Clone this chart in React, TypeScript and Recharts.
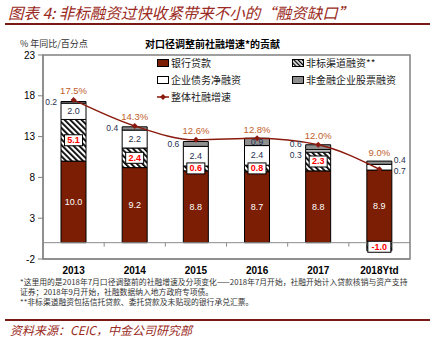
import React from 'react';
import {
  ComposedChart,
  Bar,
  Line,
  XAxis,
  YAxis,
  ReferenceLine,
  ReferenceArea,
  LabelList,
} from 'recharts';

const years = ['2013', '2014', '2015', '2016', '2017', '2018Ytd'];
const bankLoans = [10.0, 9.2, 8.8, 8.7, 8.8, 8.9];
const shadowFinancing = [5.1, 2.4, 0.6, 0.8, 2.3, -1.0];
const corpBonds = [2.0, 2.2, 2.4, 2.4, 0.3, 0.7];
const equityFinancing = [0.2, 0.4, 0.6, 0.9, 0.6, 0.4];
const tsfGrowth = [17.5, 14.3, 12.6, 12.8, 12.0, 9.0];
const yTicks = [-2, 3, 8, 13, 18, 23];

const data = years.map((year, i) => ({
  year,
  bank: bankLoans[i],
  shadow: shadowFinancing[i],
  bond: corpBonds[i],
  equity: equityFinancing[i],
  total: tsfGrowth[i],
}));

// chart geometry
const CHART_W = 432;
const CHART_H = 290;
const M_TOP = 55;
const M_BOTTOM = 11;
const X_AXIS_H = 20;
const Y_MIN = -2;
const Y_MAX = 23;
const PX_PER_UNIT = (CHART_H - M_TOP - M_BOTTOM - X_AXIS_H) / (Y_MAX - Y_MIN);

// where the small labels sit, by year
const bondSide = ['in', 'in', 'in', 'in', 'left', 'right'];
const equitySide = ['left', 'left', 'left', 'in', 'left', 'right'];

const BANK = '#7B1E04';
const GRAY = '#8E8E8E';
const LINE = '#8B1A0E';
const ORANGE = '#C0602A';
const NAVY = '#1F3050';
const NUM_FONT = '"Liberation Sans", Arial, sans-serif';
const CJK_FONT = '"Noto Sans CJK SC", "Noto Sans", sans-serif';

const box = (p: any) => {
  const v = p.viewBox || {};
  return {
    x: p.x ?? v.x ?? 0,
    y: p.y ?? v.y ?? 0,
    w: p.width ?? v.width ?? 0,
    h: p.height ?? v.height ?? 0,
  };
};

const bankLabel = (p: any) => {
  const { x, y, w, h } = box(p);
  return (
    <text x={x + w / 2} y={y + h / 2} textAnchor="middle" dominantBaseline="central" fill="#fff" fontSize={9} fontFamily={NUM_FONT}>
      {Number(p.value).toFixed(1)}
    </text>
  );
};

const shadowLabel = (p: any) => {
  const { x, y, w, h } = box(p);
  const txt = Number(p.value).toFixed(1);
  const bw = txt.length * 5 + 3;
  const cx = x + w / 2;
  const cy = y + h / 2;
  return (
    <g>
      <rect x={cx - bw / 2} y={cy - 5.5} width={bw} height={11} fill="#fff" stroke="#000" strokeWidth={1} />
      <text x={cx} y={cy} textAnchor="middle" dominantBaseline="central" fill="#FF0000" fontSize={9} fontWeight="bold" fontFamily={NUM_FONT}>
        {txt}
      </text>
    </g>
  );
};

const sideLabel = (sides: string[], nudge: number) => (p: any) => {
  const { x, y, w, h } = box(p);
  const side = sides[p.index];
  const cy = y + h / 2;
  const txt = Number(p.value).toFixed(1);
  if (side === 'in') {
    return (
      <text x={x + w / 2} y={cy} textAnchor="middle" dominantBaseline="central" fill={NAVY} fontSize={9} fontFamily={NUM_FONT}>
        {txt}
      </text>
    );
  }
  const both = bondSide[p.index] !== 'in';
  const ty = both ? cy + nudge : cy;
  return (
    <text
      x={side === 'left' ? x - 4 : x + w + 2}
      y={ty}
      textAnchor={side === 'left' ? 'end' : 'start'}
      dominantBaseline="central"
      fill={NAVY}
      fontSize={8.5}
      fontFamily={NUM_FONT}
    >
      {txt}
    </text>
  );
};

const growthLabel = (p: any) => {
  const { x, y } = box(p);
  const i = p.index;
  const barTop = [bankLoans[i], shadowFinancing[i], corpBonds[i], equityFinancing[i]]
    .filter((v) => v > 0)
    .reduce((a, b) => a + b, 0);
  const barTopY = y + (tsfGrowth[i] - barTop) * PX_PER_UNIT;
  const ly = Math.min(y, barTopY) - 9;
  return (
    <text x={x} y={ly} textAnchor="middle" dominantBaseline="central" fill={ORANGE} fontSize={9.5} fontFamily={NUM_FONT}>
      {Number(p.value).toFixed(1)}%
    </text>
  );
};

const diamond = (p: any) => {
  const { cx, cy, index } = p;
  const r = 3;
  return <path key={index} d={`M${cx},${cy - r}L${cx + r},${cy}L${cx},${cy + r}L${cx - r},${cy}Z`} fill={LINE} />;
};

const zeroAxis = (p: any) => {
  const { x1, x2, y1 } = p;
  const n = years.length;
  const step = (x2 - x1) / n;
  const ticks = [];
  for (let i = 1; i < n; i++) {
    ticks.push(<line key={i} x1={x1 + step * i} x2={x1 + step * i} y1={y1} y2={y1 + 4} stroke="#8c8c8c" />);
  }
  return (
    <g>
      <line x1={x1} x2={x2} y1={y1} y2={y1} stroke="#8c8c8c" strokeWidth={1} />
      {ticks}
    </g>
  );
};

const Swatch = ({ kind }: { kind: string }) => (
  <svg width={12} height={8} style={{ display: 'block' }}>
    <defs>
      <pattern id={`lh-${kind}`} patternUnits="userSpaceOnUse" width={3} height={3} patternTransform="rotate(-45)">
        <rect x={0} y={0} width={1.4} height={3} fill="#000" />
      </pattern>
    </defs>
    {kind === 'line' ? (
      <g>
        <line x1={0} x2={12} y1={4} y2={4} stroke={LINE} strokeWidth={1.5} />
        <path d="M6,1L9,4L6,7L3,4Z" fill={LINE} />
      </g>
    ) : (
      <rect
        x={0.5}
        y={0.5}
        width={11}
        height={7}
        stroke="#000"
        strokeWidth={1}
        fill={kind === 'bank' ? BANK : kind === 'bond' ? '#fff' : kind === 'equity' ? GRAY : `url(#lh-${kind})`}
      />
    )}
  </svg>
);

const legendItems = [
  { kind: 'bank', label: '银行贷款', left: 157, top: 56 },
  { kind: 'shadow', label: '非标渠道融资**', left: 292, top: 56 },
  { kind: 'bond', label: '企业债务净融资', left: 157, top: 73 },
  { kind: 'equity', label: '非金融企业股票融资', left: 292, top: 73 },
  { kind: 'line', label: '整体社融增速', left: 157, top: 90 },
];

const footnotes = [
  '*这里用的是2018年7月口径调整前的社融增速及分项变化——2018年7月开始，社融开始计入贷款核销与资产支持',
  '证券；2018年9月开始，社融数据纳入地方政府专项债。',
  '**非标渠道融资包括信托贷款、委托贷款及未贴现的银行承兑汇票。',
];

export default function App() {
  return (
    <div style={{ position: 'absolute', left: 0, top: 0, width: 432, height: 340, background: '#fff', fontFamily: CJK_FONT, overflow: 'hidden' }}>
      <div style={{ position: 'absolute', left: 8, top: 2, fontSize: 15.5, lineHeight: '20px', color: '#9A2A22', fontStyle: 'italic', whiteSpace: 'nowrap' }}>
        图表 4:  非标融资过快收紧带来不小的“融资缺口”
      </div>
      <div style={{ position: 'absolute', left: 5, top: 23, width: 425, height: 1.5, background: '#7A1A14' }} />

      <div style={{ position: 'absolute', left: 20, top: 38, fontSize: 9, lineHeight: '12px', color: '#333', whiteSpace: 'nowrap' }}>
        % 年同比/百分点
      </div>
      <div style={{ position: 'absolute', left: 145, top: 37, fontSize: 10, lineHeight: '13px', fontWeight: 'bold', color: '#000', whiteSpace: 'nowrap' }}>
        对口径调整前社融增速*的贡献
      </div>

      <div style={{ position: 'absolute', left: 0, top: 0 }}>
        <ComposedChart
          width={CHART_W}
          height={CHART_H}
          data={data}
          stackOffset="sign"
          margin={{ top: M_TOP, right: 22, bottom: M_BOTTOM, left: 13 }}
        >
          <defs>
            <pattern id="hatch" patternUnits="userSpaceOnUse" width={4} height={4} patternTransform="rotate(-45)">
              <rect x={0} y={0} width={4} height={4} fill="#fff" />
              <rect x={0} y={0} width={1.8} height={4} fill="#000" />
            </pattern>
          </defs>
          <ReferenceArea y1={Y_MIN} y2={Y_MAX} fill="none" fillOpacity={0} stroke="#808080" strokeWidth={1.5} />
          <XAxis
            dataKey="year"
            height={X_AXIS_H}
            tickLine={false}
            axisLine={{ stroke: '#808080' }}
            tick={{ fontSize: 10, fontWeight: 'bold', fill: '#000', fontFamily: NUM_FONT }}
          />
          <YAxis
            width={30}
            domain={[Y_MIN, Y_MAX]}
            ticks={yTicks}
            interval={0}
            tickSize={5}
            tickMargin={3}
            axisLine={{ stroke: '#808080' }}
            tickLine={{ stroke: '#808080' }}
            tick={{ fontSize: 10, fill: '#000', fontFamily: NUM_FONT }}
          />
          <ReferenceLine y={0} shape={zeroAxis} />
          <Bar dataKey="bank" stackId="a" fill={BANK} stroke="#000" strokeWidth={1} barSize={25} isAnimationActive={false}>
            <LabelList dataKey="bank" content={bankLabel} />
          </Bar>
          <Bar dataKey="shadow" stackId="a" fill="url(#hatch)" stroke="#000" strokeWidth={1} barSize={25} isAnimationActive={false}>
            <LabelList dataKey="shadow" content={shadowLabel} />
          </Bar>
          <Bar dataKey="bond" stackId="a" fill="#fff" stroke="#000" strokeWidth={1} barSize={25} isAnimationActive={false}>
            <LabelList dataKey="bond" content={sideLabel(bondSide, 4)} />
          </Bar>
          <Bar dataKey="equity" stackId="a" fill={GRAY} stroke="#000" strokeWidth={1} barSize={25} isAnimationActive={false}>
            <LabelList dataKey="equity" content={sideLabel(equitySide, -3)} />
          </Bar>
          <Line
            dataKey="total"
            type="monotone"
            stroke={LINE}
            strokeWidth={1.5}
            dot={diamond}
            activeDot={false}
            isAnimationActive={false}
          >
            <LabelList dataKey="total" content={growthLabel} />
          </Line>
        </ComposedChart>
      </div>

      {legendItems.map((it) => (
        <div key={it.kind} style={{ position: 'absolute', left: it.left, top: it.top, display: 'flex', alignItems: 'center', height: 13, whiteSpace: 'nowrap' }}>
          <Swatch kind={it.kind} />
          <span style={{ marginLeft: 2, fontSize: 10, lineHeight: '13px', color: '#222' }}>{it.label}</span>
        </div>
      ))}

      {footnotes.map((t, i) => (
        <div key={i} style={{ position: 'absolute', left: 20, top: 277 + i * 10, fontSize: 7.8, lineHeight: '10px', color: '#333', whiteSpace: 'nowrap' }}>
          {t}
        </div>
      ))}

      <div style={{ position: 'absolute', left: 5, top: 319, width: 425, height: 1.5, background: '#7A1A14' }} />
      <div style={{ position: 'absolute', left: 10, top: 322, fontSize: 12, lineHeight: '16px', color: '#9A2A22', fontStyle: 'italic', whiteSpace: 'nowrap' }}>
        资料来源：CEIC，中金公司研究部
      </div>
    </div>
  );
}
